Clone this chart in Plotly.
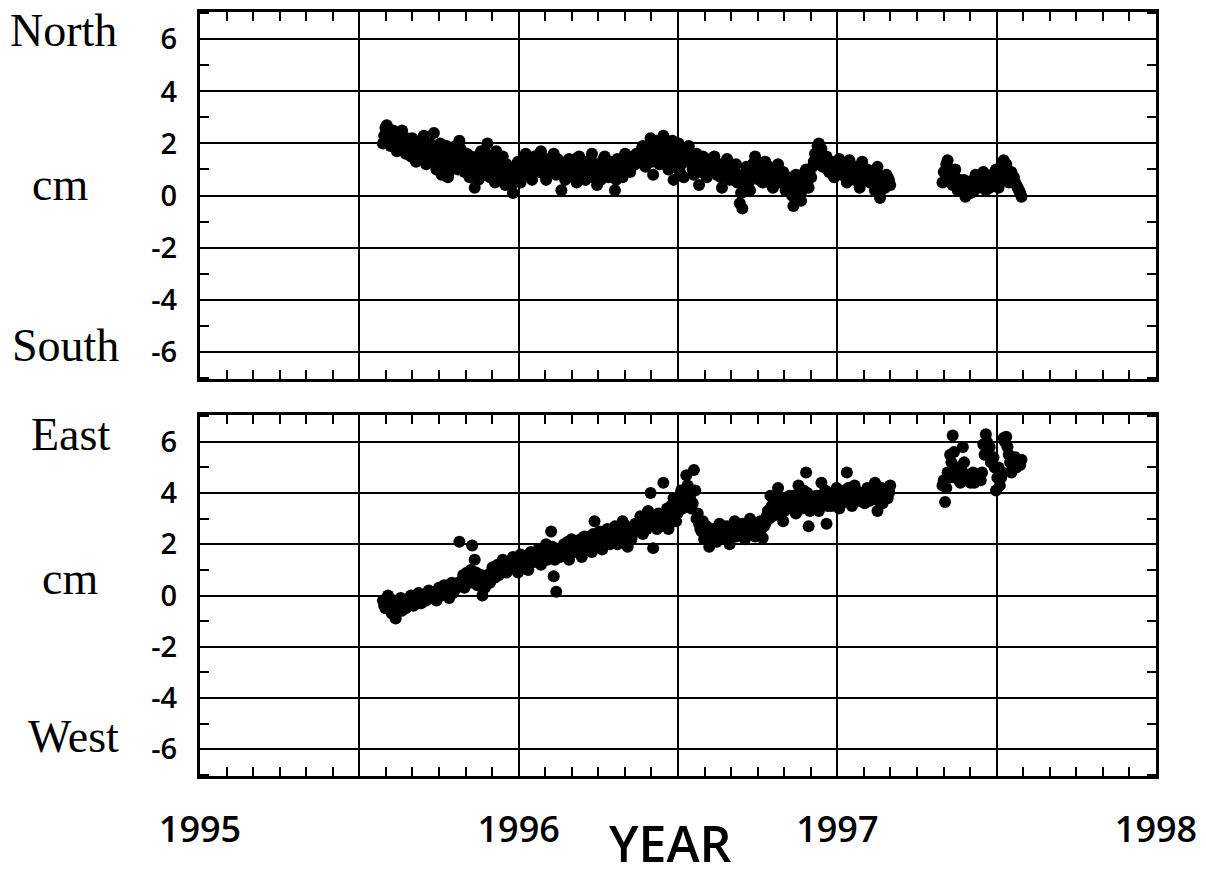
import plotly.graph_objects as go

# GPS epochs (decimal year), shared by both components
epochs = [
    1995.574, 1995.582, 1995.590, 1995.598, 1995.606, 1995.614, 1995.622, 1995.630, 1995.638, 1995.646,
    1995.654, 1995.662, 1995.670, 1995.678, 1995.686, 1995.694, 1995.702, 1995.710, 1995.718, 1995.726,
    1995.734, 1995.742, 1995.750, 1995.758, 1995.766, 1995.774, 1995.782, 1995.790, 1995.798, 1995.806,
    1995.814, 1995.822, 1995.830, 1995.838, 1995.846, 1995.854, 1995.862, 1995.870, 1995.878, 1995.886,
    1995.894, 1995.902, 1995.910, 1995.918, 1995.926, 1995.934, 1995.942, 1995.950, 1995.958, 1995.966,
    1995.974, 1995.982, 1995.990, 1995.998, 1996.006, 1996.014, 1996.022, 1996.030, 1996.038, 1996.046,
    1996.054, 1996.062, 1996.070, 1996.078, 1996.086, 1996.094, 1996.102, 1996.110, 1996.118, 1996.126,
    1996.134, 1996.142, 1996.150, 1996.158, 1996.166, 1996.174, 1996.182, 1996.190, 1996.198, 1996.206,
    1996.214, 1996.222, 1996.230, 1996.238, 1996.246, 1996.254, 1996.262, 1996.270, 1996.278, 1996.286,
    1996.294, 1996.302, 1996.310, 1996.318, 1996.326, 1996.334, 1996.342, 1996.350, 1996.358, 1996.366,
    1996.374, 1996.382, 1996.390, 1996.398, 1996.406, 1996.414, 1996.422, 1996.430, 1996.438, 1996.446,
    1996.454, 1996.462, 1996.470, 1996.478, 1996.486, 1996.494, 1996.502, 1996.510, 1996.518, 1996.526,
    1996.534, 1996.542, 1996.550, 1996.558, 1996.566, 1996.574, 1996.582, 1996.590, 1996.598, 1996.606,
    1996.614, 1996.622, 1996.630, 1996.638, 1996.646, 1996.654, 1996.662, 1996.670, 1996.678, 1996.686,
    1996.694, 1996.702, 1996.710, 1996.718, 1996.726, 1996.734, 1996.742, 1996.750, 1996.758, 1996.766,
    1996.774, 1996.782, 1996.790, 1996.798, 1996.806, 1996.814, 1996.822, 1996.830, 1996.838, 1996.846,
    1996.854, 1996.862, 1996.870, 1996.878, 1996.886, 1996.894, 1996.902, 1996.910, 1996.918, 1996.926,
    1996.934, 1996.942, 1996.950, 1996.958, 1996.966, 1996.974, 1996.982, 1996.990, 1996.998, 1997.006,
    1997.014, 1997.022, 1997.030, 1997.038, 1997.046, 1997.054, 1997.062, 1997.070, 1997.078, 1997.086,
    1997.094, 1997.102, 1997.110, 1997.118, 1997.126, 1997.134, 1997.142, 1997.150, 1997.158, 1997.166,
    1997.330, 1997.338, 1997.346, 1997.354, 1997.362, 1997.370, 1997.378, 1997.386, 1997.394, 1997.402,
    1997.410, 1997.418, 1997.426, 1997.434, 1997.442, 1997.450, 1997.458, 1997.466, 1997.474, 1997.482,
    1997.490, 1997.498, 1997.506, 1997.514, 1997.522, 1997.530, 1997.538, 1997.546, 1997.554, 1997.562,
    1997.570, 1997.578,
]

# North component (cm)
north = [
    2.0, 2.6, 2.4, 1.9, 2.5, 2.2, 1.8, 2.3, 2.0, 1.6,
    2.1, 1.5, 1.8, 1.3, 2.0, 1.6, 2.3, 1.2, 1.7, 1.9,
    2.4, 1.0, 1.6, 0.8, 1.3, 1.9, 0.9, 1.5, 1.1, 1.7,
    2.1, 1.4, 0.9, 1.6, 0.7, 1.2, 0.3, 1.5, 1.0, 1.3,
    1.1, 2.0, 0.7, 1.4, 0.5, 1.2, 0.8, 1.5, 0.4, 0.9,
    0.6, 0.1, 0.9, 1.3, 0.5, 1.1, 1.6, 0.8, 1.4, 1.0,
    1.5, 0.9, 1.7, 1.2, 0.6, 1.4, 1.0, 1.6, 0.8, 1.3,
    0.2, 1.1, 0.7, 1.4, 0.9, 1.2, 0.5, 1.5, 0.8, 1.0,
    1.3, 0.7, 1.6, 1.0, 0.4, 1.2, 0.8, 1.5, 0.9, 1.1,
    0.9, 0.2, 1.4, 1.1, 0.7, 1.6, 1.3, 0.9, 1.5, 1.2,
    1.6, 1.3, 1.9, 1.1, 1.5, 2.2, 0.8, 1.7, 1.4, 2.0,
    2.3, 1.6, 1.0, 1.8, 0.6, 1.4, 2.0, 1.2, 0.7, 1.5,
    1.9, 1.3, 0.8, 1.6, 0.4, 1.1, 1.4, 0.7, 1.2, 0.9,
    1.5, 0.8, 1.2, 0.3, 1.0, 1.4, 0.6, 1.1, 0.9, 0.5,
    -0.3, -0.5, 0.4, 0.9, 0.2, 1.2, 1.5, 0.7, 1.0, 0.5,
    1.3, 0.6, 1.0, 0.3, 0.8, 1.2, 0.5, 0.9, 0.2, 0.7,
    0.4, -0.4, 0.8, 0.1, -0.2, 0.6, 1.0, 0.3, 0.7, 1.3,
    1.6, 2.0, 1.8, 1.2, 1.5, 0.9, 1.3, 0.7, 1.1, 1.4,
    0.8, 1.2, 0.5, 1.35, 0.9, 0.6, 1.1, 0.3, 1.3, 0.8,
    1.0, 0.5, 0.8, 0.2, 1.1, -0.1, 0.6, 0.3, 0.7, 0.4,
    0.5, 0.9, 1.35, 0.7, 0.4, 1.0, 0.2, 0.6, 0.3, -0.05,
    0.4, 0.1, 0.6, 0.8, 0.3, 0.5, 0.9, 0.2, 0.7, 0.4,
    0.6, 1.0, 0.3, 0.8, 1.35, 1.2, 0.5, 0.9, 0.7, 0.4,
    0.2, -0.05,
]

# East component (cm)
east = [
    -0.2, -0.5, 0.0, -0.3, -0.6, -0.9, -0.4, -0.1, -0.3, -0.5,
    -0.3, 0.0, -0.4, -0.1, 0.1, -0.3, 0.0, -0.2, 0.2, -0.1,
    0.1, -0.2, 0.3, 0.0, 0.4, 0.2, -0.1, 0.5, 0.2, 0.3,
    2.1, 0.6, 0.3, 0.9, 0.5, 1.95, 1.4, 0.4, 0.7, 0.0,
    0.3, 0.8, 0.5, 1.1, 0.7, 1.2, 0.9, 1.4, 1.0, 1.3,
    1.1, 1.5, 1.3, 0.9, 1.6, 1.2, 1.4, 1.0, 1.7, 1.3,
    1.4, 1.8, 1.2, 1.6, 2.0, 1.5, 2.5, 0.75, 0.15, 1.7,
    1.6, 2.0, 1.8, 1.4, 2.2, 1.7, 2.1, 1.9, 1.5, 2.3,
    1.9, 2.3, 1.7, 2.9, 2.1, 2.5, 1.8, 2.2, 2.6, 2.0,
    2.2, 2.7, 2.0, 2.5, 2.9, 2.3, 1.9, 2.6, 2.4, 2.8,
    2.6, 3.1, 2.4, 2.9, 3.3, 4.0, 1.85, 2.8, 3.2, 2.7,
    4.4, 3.0, 2.6, 3.5, 3.8, 2.9, 3.3, 4.1, 3.6, 4.7,
    4.2, 3.4, 4.9, 3.0, 2.8, 2.5, 2.2, 2.7, 1.9, 2.4,
    2.6, 2.1, 2.8, 2.4, 2.3, 2.7, 2.0, 2.5, 2.9, 2.6,
    2.4, 2.8, 2.2, 2.6, 3.0, 2.5, 2.3, 2.7, 2.9, 2.25,
    2.8, 3.3, 3.9, 3.1, 3.6, 4.2, 3.4, 2.9, 3.7, 3.5,
    3.4, 3.9, 3.2, 4.3, 3.6, 4.1, 4.8, 2.7, 3.5, 3.8,
    3.9, 3.3, 4.4, 3.6, 2.8, 4.0, 3.5, 3.8, 4.2, 3.4,
    3.6, 4.1, 4.8, 3.8, 3.5, 4.3, 3.9, 3.7, 4.0, 3.6,
    4.2, 3.7, 3.9, 4.4, 3.3, 4.0, 3.6, 4.1, 3.8, 4.3,
    4.3, 3.65, 4.8, 5.5, 6.25, 4.6, 5.0, 4.4, 5.8, 4.5,
    4.6, 4.4, 4.8, 4.5, 4.7, 4.5, 5.9, 6.3, 5.6, 5.2,
    5.4, 4.1, 5.0, 4.6, 6.15, 6.2, 5.5, 4.8, 5.2, 5.0,
    5.2, 5.3,
]

# Intermediate epochs (decimal year), shared by both components
epochs_mid = [
    1995.578, 1995.586, 1995.594, 1995.602, 1995.610, 1995.618, 1995.626, 1995.634, 1995.642, 1995.650,
    1995.658, 1995.666, 1995.674, 1995.682, 1995.690, 1995.698, 1995.706, 1995.714, 1995.722, 1995.730,
    1995.738, 1995.746, 1995.754, 1995.762, 1995.770, 1995.778, 1995.786, 1995.794, 1995.802, 1995.810,
    1995.818, 1995.826, 1995.834, 1995.842, 1995.850, 1995.858, 1995.866, 1995.874, 1995.882, 1995.890,
    1995.898, 1995.906, 1995.914, 1995.922, 1995.930, 1995.938, 1995.946, 1995.954, 1995.962, 1995.970,
    1995.978, 1995.986, 1995.994, 1996.002, 1996.010, 1996.018, 1996.026, 1996.034, 1996.042, 1996.050,
    1996.058, 1996.066, 1996.074, 1996.082, 1996.090, 1996.098, 1996.106, 1996.114, 1996.122, 1996.130,
    1996.138, 1996.146, 1996.154, 1996.162, 1996.170, 1996.178, 1996.186, 1996.194, 1996.202, 1996.210,
    1996.218, 1996.226, 1996.234, 1996.242, 1996.250, 1996.258, 1996.266, 1996.274, 1996.282, 1996.290,
    1996.298, 1996.306, 1996.314, 1996.322, 1996.330, 1996.338, 1996.346, 1996.354, 1996.362, 1996.370,
    1996.378, 1996.386, 1996.394, 1996.402, 1996.410, 1996.418, 1996.426, 1996.434, 1996.442, 1996.450,
    1996.458, 1996.466, 1996.474, 1996.482, 1996.490, 1996.498, 1996.506, 1996.514, 1996.522, 1996.530,
    1996.538, 1996.546, 1996.554, 1996.562, 1996.570, 1996.578, 1996.586, 1996.594, 1996.602, 1996.610,
    1996.618, 1996.626, 1996.634, 1996.642, 1996.650, 1996.658, 1996.666, 1996.674, 1996.682, 1996.690,
    1996.698, 1996.706, 1996.714, 1996.722, 1996.730, 1996.738, 1996.746, 1996.754, 1996.762, 1996.770,
    1996.778, 1996.786, 1996.794, 1996.802, 1996.810, 1996.818, 1996.826, 1996.834, 1996.842, 1996.850,
    1996.858, 1996.866, 1996.874, 1996.882, 1996.890, 1996.898, 1996.906, 1996.914, 1996.922, 1996.930,
    1996.938, 1996.946, 1996.954, 1996.962, 1996.970, 1996.978, 1996.986, 1996.994, 1997.002, 1997.010,
    1997.018, 1997.026, 1997.034, 1997.042, 1997.050, 1997.058, 1997.066, 1997.074, 1997.082, 1997.090,
    1997.098, 1997.106, 1997.114, 1997.122, 1997.130, 1997.138, 1997.146, 1997.154, 1997.162, 1997.162,
    1997.334, 1997.342, 1997.350, 1997.358, 1997.366, 1997.374, 1997.382, 1997.390, 1997.398, 1997.406,
    1997.414, 1997.422, 1997.430, 1997.438, 1997.446, 1997.454, 1997.462, 1997.470, 1997.478, 1997.486,
    1997.494, 1997.502, 1997.510, 1997.518, 1997.526, 1997.534, 1997.542, 1997.550, 1997.558, 1997.566,
    1997.574,
]

north_mid = [
    2.3, 2.7, 2.1, 2.2, 2.4, 1.7, 2.0, 2.5, 1.8, 2.2,
    1.7, 2.2, 1.4, 1.9, 1.6, 2.1, 1.5, 1.8, 2.0, 1.4,
    1.8, 1.3, 2.0, 1.2, 1.7, 0.7, 1.4, 1.2, 1.9, 1.0,
    1.8, 1.0, 1.3, 0.8, 1.5, 0.9, 1.1, 0.6, 1.7, 0.8,
    1.6, 1.3, 1.0, 0.6, 1.7, 0.9, 1.1, 0.6, 1.2, 0.7,
    0.4, 0.8, 1.2, 0.7, 1.0, 1.4, 0.9, 1.2, 0.6, 1.5,
    1.2, 1.6, 1.0, 0.8, 1.3, 1.1, 1.5, 0.9, 1.4, 1.1,
    0.9, 0.6, 1.3, 1.0, 0.7, 1.4, 1.1, 0.9, 1.3, 0.6,
    1.0, 1.4, 0.8, 1.2, 1.0, 0.6, 1.4, 1.1, 0.7, 1.3,
    1.1, 0.6, 1.0, 1.3, 0.9, 1.2, 1.5, 1.1, 1.3, 1.6,
    1.4, 1.8, 1.2, 1.7, 1.9, 1.3, 1.6, 2.1, 1.2, 1.8,
    1.9, 1.2, 1.5, 2.1, 1.1, 1.7, 0.9, 1.6, 1.3, 1.8,
    1.5, 1.0, 1.3, 0.9, 1.2, 1.5, 0.8, 1.0, 1.4, 1.1,
    1.0, 1.2, 0.7, 1.1, 0.8, 1.3, 0.9, 0.6, 1.2, 0.8,
    0.1, 0.6, 1.1, 0.5, 0.8, 1.0, 1.3, 0.6, 0.8, 1.1,
    0.9, 1.1, 0.4, 0.7, 1.0, 0.6, 0.8, 0.4, 0.6, 0.3,
    0.0, 0.5, 0.3, 0.6, 0.2, 0.9, 0.5, 0.8, 1.1, 1.6,
    1.9, 1.4, 1.1, 1.5, 1.0, 1.2, 0.8, 1.0, 1.3, 1.1,
    1.0, 0.7, 1.0, 1.1, 0.7, 1.0, 0.6, 0.9, 1.0, 0.6,
    0.8, 0.7, 0.5, 0.9, 0.4, 0.2, 0.5, 0.8, 0.5, 0.6,
    0.9, 1.2, 0.8, 0.5, 0.8, 0.5, 0.4, 0.2, 0.6, 0.1,
    0.3, 0.5, 0.2, 0.6, 0.5, 0.7, 0.4, 0.6, 0.3, 0.8,
    0.9, 0.7, 0.5, 1.1, 1.0, 0.8, 0.7, 0.6, 0.5, 0.3,
    0.1,
]

east_mid = [
    -0.4, -0.1, -0.3, -0.7, -0.2, -0.5, -0.3, -0.6, -0.2, -0.4,
    -0.1, -0.2, 0.0, -0.3, -0.1, 0.0, -0.2, 0.1, 0.0, 0.1,
    -0.1, 0.2, 0.1, 0.3, 0.1, 0.4, 0.3, 0.1, 0.4, 0.5,
    0.4, 0.8, 0.5, 0.7, 1.0, 0.6, 0.9, 0.5, 0.8, 0.3,
    0.6, 0.5, 0.9, 0.7, 1.0, 0.8, 1.1, 1.2, 0.9, 1.1,
    1.3, 1.2, 1.0, 1.4, 1.1, 1.5, 1.2, 1.6, 1.4, 1.5,
    1.6, 1.3, 1.5, 1.8, 1.4, 1.7, 1.9, 1.4, 1.6, 1.5,
    1.8, 1.7, 2.1, 1.6, 1.9, 2.0, 1.8, 2.2, 1.7, 2.0,
    2.1, 2.0, 2.4, 2.2, 1.9, 2.3, 2.1, 2.4, 2.2, 2.3,
    2.4, 2.3, 2.6, 2.2, 2.5, 2.7, 2.4, 2.2, 2.7, 2.5,
    2.8, 2.7, 3.0, 2.6, 3.1, 2.8, 3.0, 2.6, 2.9, 3.1,
    3.2, 3.4, 2.8, 3.1, 3.6, 3.2, 3.9, 3.4, 3.8, 4.3,
    3.8, 3.6, 4.1, 3.2, 2.6, 2.9, 2.4, 2.3, 2.6, 2.2,
    2.4, 2.3, 2.5, 2.7, 2.2, 2.5, 2.4, 2.6, 2.3, 2.7,
    2.6, 2.5, 2.4, 2.8, 2.6, 2.7, 2.5, 2.8, 2.6, 2.7,
    3.1, 3.0, 3.5, 3.4, 3.2, 3.8, 3.6, 3.3, 3.5, 3.9,
    3.6, 3.5, 3.7, 3.9, 3.4, 3.8, 4.0, 3.3, 3.7, 3.6,
    3.6, 3.9, 3.7, 4.1, 3.5, 3.7, 3.9, 3.6, 3.8, 3.7,
    3.9, 3.7, 4.2, 3.9, 3.8, 4.1, 3.7, 4.0, 3.8, 3.9,
    3.9, 4.0, 3.8, 4.1, 3.7, 4.2, 3.9, 3.8, 4.0, 4.1,
    4.5, 4.2, 4.6, 5.2, 5.6, 4.8, 4.6, 4.9, 5.2, 4.7,
    4.5, 4.6, 4.4, 4.7, 4.6, 4.8, 5.5, 6.0, 5.8, 5.4,
    5.0, 4.6, 4.3, 4.8, 6.0, 5.8, 5.2, 5.0, 5.4, 5.1,
    5.1,
]

year_ticks = [1995, 1995.5, 1996, 1996.5, 1997, 1997.5, 1998]
year_text = ["1995", "", "1996", "", "1997", "", "1998"]
y_ticks = [-6, -4, -2, 0, 2, 4, 6]
y_text = ["-6", "-4", "-2", "0", "2", "4", "6"]

fig = go.Figure()
marker = dict(color="black", size=12, line=dict(width=0))
fig.add_trace(go.Scatter(x=epochs + epochs_mid, y=north + north_mid, mode="markers",
                         marker=marker, xaxis="x", yaxis="y", showlegend=False))
fig.add_trace(go.Scatter(x=epochs + epochs_mid, y=east + east_mid, mode="markers",
                         marker=marker, xaxis="x2", yaxis="y2", showlegend=False))

W, H = 1206, 876
xdom = [200 / W, 1156 / W]
top_dom = [1 - 379 / H, 1 - 12 / H]
bot_dom = [1 - 776 / H, 1 - 415 / H]

tickfont = dict(family="Open Sans", size=29, color="black", weight=600)

def xaxis(show_labels, anchor):
    return dict(
        domain=xdom, anchor=anchor, range=[1995, 1998], automargin=False,
        tickvals=year_ticks, ticktext=year_text, showticklabels=show_labels,
        tickfont=dict(family="Open Sans", size=36, color="black", weight=600),
        ticklabelstandoff=20,
        showgrid=True, gridcolor="black", gridwidth=1.5,
        ticks="inside", ticklen=9, tickwidth=2, tickcolor="black",
        minor=dict(dtick=1 / 12, tick0=1995, ticks="inside", ticklen=9,
                   tickwidth=2, tickcolor="black", showgrid=False),
        showline=True, linecolor="black", linewidth=3, mirror="ticks",
        zeroline=False, fixedrange=True,
    )

def yaxis(dom, anchor):
    return dict(
        domain=dom, anchor=anchor, range=[-7.05, 7.05], automargin=False,
        tickvals=y_ticks, ticktext=y_text, tickfont=tickfont,
        ticklabelstandoff=14,
        showgrid=True, gridcolor="black", gridwidth=2,
        ticks="inside", ticklen=9, tickwidth=2, tickcolor="black",
        minor=dict(dtick=1, tick0=0, ticks="inside", ticklen=9,
                   tickwidth=2, tickcolor="black", showgrid=False),
        showline=True, linecolor="black", linewidth=3, mirror="ticks",
        zeroline=False, fixedrange=True,
    )

serif = dict(family="Liberation Serif", size=46, color="black")
labels = [
    ("North", 63, 30), ("cm", 60, 184), ("South", 65, 346),
    ("East", 70, 434), ("cm", 70, 578), ("West", 73, 736),
]
annotations = []
for txt, px, py in labels:
    annotations.append(dict(text=txt, x=px / W, y=1 - py / H, xref="paper", yref="paper",
                            xanchor="center", yanchor="middle", showarrow=False, font=serif))
annotations.append(dict(text="YEAR", x=670 / W, y=1 - 843 / H, xref="paper", yref="paper",
                        xanchor="center", yanchor="middle", showarrow=False,
                        font=dict(family="Open Sans", size=50, color="black", weight=600)))

fig.update_layout(
    width=W, height=H, margin=dict(l=0, r=0, t=0, b=0, pad=0),
    paper_bgcolor="white", plot_bgcolor="white",
    xaxis=xaxis(False, "y"), yaxis=yaxis(top_dom, "x"),
    xaxis2=xaxis(True, "y2"), yaxis2=yaxis(bot_dom, "x2"),
    annotations=annotations,
)

fig.write_html("out.html", config={"displayModeBar": False},
               post_script="document.body.style.margin='0';")
